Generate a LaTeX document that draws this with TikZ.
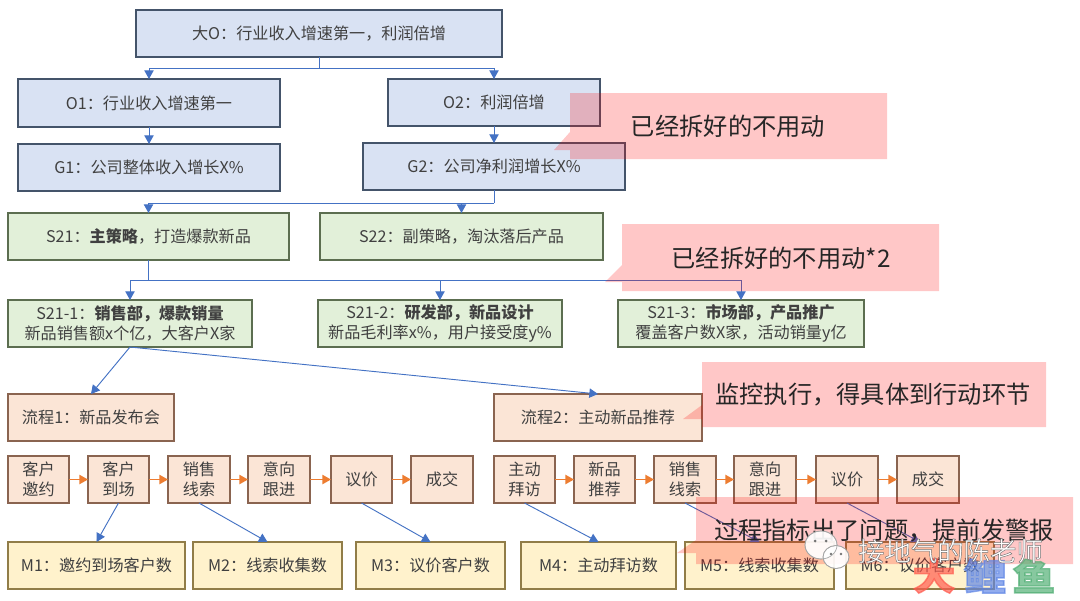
\documentclass[tikz,border=0pt]{standalone}
\usepackage{fontspec}
\setmainfont{Noto Sans CJK SC}
\usetikzlibrary{arrows.meta}
\definecolor{txt}{HTML}{404040}
\definecolor{bl}{HTML}{D9E2F3}\definecolor{blb}{HTML}{44546A}
\definecolor{gr}{HTML}{E2F0D9}\definecolor{grb}{HTML}{5C6E50}
\definecolor{orf}{HTML}{FBE5D6}\definecolor{orb}{HTML}{8A6450}
\definecolor{ye}{HTML}{FFF2CC}\definecolor{yeb}{HTML}{917D48}
\definecolor{conb}{HTML}{4472C4}\definecolor{cono}{HTML}{ED7D31}
\definecolor{logor}{HTML}{FF5A4D}\definecolor{logob}{HTML}{5F86E6}\definecolor{logog}{HTML}{4FAE72}
\tikzset{
 x=0.75pt,y=-0.75pt,
 boxbase/.style={draw,line width=1.1pt,inner sep=0pt,outer sep=0pt,text=txt,font=\fontsize{12.1}{15}\selectfont,align=center,anchor=center},
 bluebox/.style={boxbase,fill=bl,draw=blb},
 greenbox/.style={boxbase,fill=gr,draw=grb},
 orangebox/.style={boxbase,fill=orf,draw=orb},
 yellowbox/.style={boxbase,fill=ye,draw=yeb},
 conn/.style={draw=conb,line width=0.7pt,-{Triangle[length=6.5pt,width=7pt]}},
 connplain/.style={draw=conb,line width=0.7pt},
 flow/.style={draw=cono,line width=1pt,-{Triangle[length=6.5pt,width=7pt]}},
 callout/.style={fill=red,fill opacity=0.22,draw=none},
 calltext/.style={text=black!85,font=\fontsize{18.2}{22}\selectfont,inner sep=0pt},
 marktext/.style={text=white,font=\fontsize{19.8}{24}\selectfont,inner sep=0pt},
 logotext/.style={font=\bfseries\fontsize{32}{34}\selectfont,inner sep=0pt,opacity=0.68,yscale=0.85,transform shape},
 bubble/.style={fill=white,draw=black!35,line width=0.5pt,fill opacity=0.92},
}
% \bx{style}{name}{x1}{y1}{x2}{y2}{text}
\newcommand{\bx}[7]{\node[#1,minimum width=(#5-#3)*0.75pt,minimum height=(#6-#4)*0.75pt] (#2) at ({(#3+#5)/2},{(#4+#6)/2}) {#7};}
\begin{document}
\begin{tikzpicture}
\useasboundingbox (0,0) rectangle (1080,600);
\fill[white] (0,0) rectangle (1080,600);
\bx{bluebox}{bigo}{136}{10}{502}{57}{大O：行业收入增速第一，利润倍增}
\bx{bluebox}{o1}{18}{79}{280}{127}{O1：行业收入增速第一}
\bx{bluebox}{o2}{388}{79}{600}{126}{O2：利润倍增}
\bx{bluebox}{g1}{18}{144}{280}{191}{G1：公司整体收入增长X\%}
\bx{bluebox}{g2}{363}{143}{625}{190}{G2：公司净利润增长X\%}
\bx{greenbox}{s21}{8}{213}{289}{260}{S21：\textbf{主策略}，打造爆款新品}
\bx{greenbox}{s22}{320}{213}{603}{260}{S22：副策略，淘汰落后产品}
\bx{greenbox}{sa}{8}{300}{252}{347}{S21-1：\textbf{销售部，爆款销量}\\新品销售额x个亿，大客户X家}
\bx{greenbox}{sb}{318}{300}{562}{347}{S21-2：\textbf{研发部，新品设计}\\新品毛利率x\%，用户接受度y\%}
\bx{greenbox}{sc}{618}{300}{864}{347}{S21-3：\textbf{市场部，产品推广}\\覆盖客户数X家，活动销量y亿}
\bx{orangebox}{pa}{8}{394}{174}{441}{流程1：新品发布会}
\bx{orangebox}{pb}{494}{394}{702}{441}{流程2：主动新品推荐}
\bx{orangebox}{a1}{8}{456}{69}{503}{客户\\邀约}
\bx{orangebox}{a2}{88}{456}{149}{503}{客户\\到场}
\bx{orangebox}{a3}{168}{456}{230}{503}{销售\\线索}
\bx{orangebox}{a4}{248}{456}{310}{503}{意向\\跟进}
\bx{orangebox}{a5}{331}{456}{392}{503}{议价}
\bx{orangebox}{a6}{411}{456}{473}{503}{成交}
\bx{orangebox}{b1}{494}{456}{555}{503}{主动\\拜访}
\bx{orangebox}{b2}{574}{456}{635}{503}{新品\\推荐}
\bx{orangebox}{b3}{654}{456}{716}{503}{销售\\线索}
\bx{orangebox}{b4}{734}{456}{796}{503}{意向\\跟进}
\bx{orangebox}{b5}{816}{456}{878}{503}{议价}
\bx{orangebox}{b6}{897}{456}{959}{503}{成交}
\bx{yellowbox}{m1}{8}{542}{185}{589}{M1：邀约到场客户数}
\bx{yellowbox}{m2}{193}{542}{342}{589}{M2：线索收集数}
\bx{yellowbox}{m3}{356}{542}{505}{589}{M3：议价客户数}
\bx{yellowbox}{m4}{521}{542}{676}{589}{M4：主动拜访数}
\bx{yellowbox}{m5}{685}{542}{834}{589}{M5：线索收集数}
\bx{yellowbox}{m6}{846}{542}{994}{589}{M6：议价客户数}
% connectors
\coordinate (j0) at (319,68);
\draw[connplain] (bigo.south) -- (j0);
\draw[conn] (j0) -| (o1.north);
\draw[conn] (j0) -| (o2.north);
\draw[conn] (o1.south) -- (g1.north);
\draw[conn] (o2.south) -- (g2.north);
\coordinate (j1) at (494,203);
\draw[connplain] (g2.south) -- (j1);
\draw[conn] (j1) -| (s21.north);
\draw[conn] (j1) -| (s22.north);
\coordinate (j2) at (148.5,280);
\draw[connplain,line width=1pt] (s21.south) -- (j2);
\draw[conn] (j2) -| (sa.north);
\draw[conn] (j2) -| (sb.north);
\draw[conn] (j2) -| (sc.north);
\draw[conn] (sa.south) -- (pa.north);
\draw[conn] (sa.south) -- (pb.north);
\foreach \u/\v in {a1/a2,a2/a3,a3/a4,a4/a5,a5/a6,b1/b2,b2/b3,b3/b4,b4/b5,b5/b6}{\draw[flow] (\u) -- (\v);}
\draw[conn] (a2.south) -- (m1.north);
\draw[conn] (a3.south) -- (m2.north);
\draw[conn] (a5.south) -- (m3.north);
\draw[conn] (b1.south) -- (m4.north);
\draw[conn] (b3.south) -- (m5.north);
\draw[conn] (b5.south) -- (m6.north);
% callouts
\fill[callout] (570,93) -- (887,93) -- (887,159) -- (570,159) -- (570,150) -- (554,150) -- (570,132) -- cycle;
\node[calltext] (c1) at (728,126) {已经拆好的不用动};
\fill[callout] (622,224) -- (939,224) -- (939,291) -- (622,291) -- (622,282) -- (605,282) -- (622,265) -- cycle;
\node[calltext] (c2) at (781,258) {已经拆好的不用动*2};
\fill[callout] (702,362) -- (1046,362) -- (1046,427) -- (702,427) -- (702,419) -- (683,419) -- (702,405) -- cycle;
\node[calltext] (c3) at (873,395) {监控执行，得具体到行动环节};
\fill[callout] (696,497) -- (1073,497) -- (1073,564) -- (696,564) -- (696,553) -- (677,553) -- (696,540) -- cycle;
\node[calltext] (c4) at (884,531) {过程指标出了问题，提前发警报};
% watermark
\node[logotext,text=logor] (l1) at (934,576) {\special{pdf:code 2 Tr 1.2 w 1 0.35 0.3 RG}大\special{pdf:code 0 Tr}};
\node[logotext,text=logob] (l2) at (985,576) {\special{pdf:code 2 Tr 1.2 w 0.37 0.52 0.9 RG}鲤\special{pdf:code 0 Tr}};
\node[logotext,text=logog] (l3) at (1034,576) {\special{pdf:code 2 Tr 1.2 w 0.31 0.68 0.45 RG}鱼\special{pdf:code 0 Tr}};
\fill[bubble] (821,545) ellipse [x radius=16,y radius=14];
\fill[black!55] (815,541) circle (1.5) (826,541) circle (1.5);
\fill[bubble] (836,557) ellipse [x radius=13,y radius=11.5];
\fill[black!55] (831,554) circle (1.3) (841,554) circle (1.3);
\draw[black!35,line width=0.5pt] (821,545) ellipse [x radius=16,y radius=14];
\draw[black!35,line width=0.5pt] (836,557) ellipse [x radius=13,y radius=11.5];
\node[marktext] (mk) at (950.5,551) {\special{pdf:code 2 Tr 0.35 w 0.45 0.45 0.45 RG}接地气的陈老师\special{pdf:code 0 Tr}};
\end{tikzpicture}
\end{document}
